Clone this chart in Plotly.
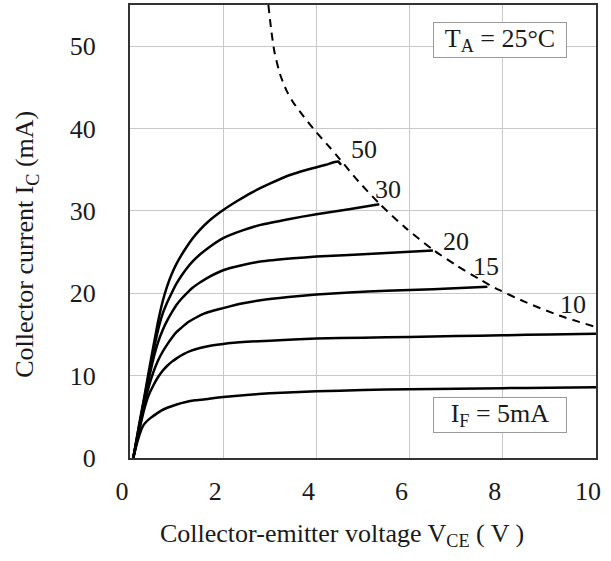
import plotly.graph_objects as go

# Forward current levels (mA) and their curves: Ic (mA) vs Vce (V)
if_labels = ["5", "10", "15", "20", "30", "50"]

vce_5 = [0.07, 0.15, 0.22, 0.28, 0.35, 0.45, 0.55, 0.67, 0.8, 1.0, 1.2, 1.4, 1.7, 2.0, 2.5, 3.0, 4.0, 5.0, 6.0, 7.0, 8.0, 9.0, 10.0]
ic_5 = [0.0, 1.8, 3.1, 3.9, 4.4, 4.9, 5.3, 5.75, 6.1, 6.5, 6.8, 7.0, 7.2, 7.4, 7.65, 7.85, 8.1, 8.25, 8.35, 8.42, 8.48, 8.54, 8.6]

vce_10 = [0.07, 0.2, 0.3, 0.4, 0.5, 0.6, 0.7, 0.8, 0.9, 1.0, 1.15, 1.3, 1.5, 1.75, 2.0, 2.5, 3.0, 4.0, 5.0, 6.0, 7.0, 8.0, 9.0, 10.0]
ic_10 = [0.0, 3.4, 5.8, 7.6, 8.8, 9.8, 10.6, 11.2, 11.7, 12.1, 12.6, 13.0, 13.35, 13.65, 13.85, 14.1, 14.25, 14.5, 14.6, 14.7, 14.8, 14.9, 15.0, 15.1]

vce_15 = [0.07, 0.2, 0.3, 0.4, 0.5, 0.6, 0.7, 0.8, 0.9, 1.0, 1.1, 1.25, 1.4, 1.6, 1.8, 2.0, 2.4, 2.8, 3.4, 4.0, 4.7, 5.5, 6.5, 7.67]
ic_15 = [0.0, 3.6, 6.3, 8.6, 10.4, 11.8, 12.9, 13.8, 14.6, 15.3, 15.8, 16.5, 17.0, 17.55, 17.9, 18.2, 18.75, 19.15, 19.55, 19.85, 20.1, 20.3, 20.5, 20.8]

vce_20 = [0.07, 0.2, 0.3, 0.4, 0.5, 0.6, 0.7, 0.8, 0.9, 1.0, 1.1, 1.2, 1.35, 1.5, 1.7, 2.0, 2.4, 2.8, 3.5, 4.0, 4.7, 5.5, 6.5]
ic_20 = [0.0, 3.8, 6.7, 9.5, 12.0, 14.0, 15.5, 16.7, 17.7, 18.6, 19.3, 19.9, 20.7, 21.3, 22.0, 22.8, 23.4, 23.85, 24.25, 24.45, 24.65, 24.9, 25.2]

vce_30 = [0.07, 0.2, 0.3, 0.4, 0.5, 0.6, 0.7, 0.8, 0.9, 1.0, 1.1, 1.2, 1.35, 1.5, 1.7, 2.0, 2.4, 2.8, 3.4, 4.0, 4.7, 5.35]
ic_30 = [0.0, 4.0, 7.0, 10.0, 12.9, 15.5, 17.5, 18.9, 20.1, 21.2, 22.1, 22.9, 23.9, 24.7, 25.6, 26.7, 27.6, 28.3, 29.0, 29.6, 30.2, 30.8]

vce_50 = [0.07, 0.2, 0.3, 0.4, 0.5, 0.6, 0.7, 0.8, 0.9, 1.0, 1.1, 1.2, 1.35, 1.5, 1.7, 2.0, 2.3, 2.6, 3.0, 3.4, 3.8, 4.2, 4.46, 4.53]
ic_50 = [0.0, 4.2, 7.2, 10.4, 13.5, 16.5, 19.0, 20.9, 22.4, 23.6, 24.6, 25.5, 26.7, 27.7, 28.8, 30.1, 31.2, 32.2, 33.3, 34.3, 35.0, 35.6, 36.0, 35.6]

# Power dissipation limit (dashed)
vce_pmax = [2.97, 3.03, 3.1, 3.22, 3.36, 3.5, 3.72, 3.99, 4.29, 4.5, 4.9, 5.35, 5.9, 6.5, 7.0, 7.5, 7.92, 8.5, 9.21, 10.0]
ic_pmax = [55.0, 52.0, 49.3, 46.6, 44.6, 43.2, 41.5, 39.6, 37.7, 36.3, 33.6, 30.9, 28.0, 25.3, 23.4, 21.7, 20.4, 18.9, 17.3, 15.9]

x_ticks = [0, 2, 4, 6, 8, 10]
x_ticklabels = ["0", "2", "4", "6", "8", "10"]
y_ticks = [0, 10, 20, 30, 40, 50]
y_ticklabels = ["0", "10", "20", "30", "40", "50"]

FONT = "Liberation Serif"
TXT = "#1a1a1a"

fig = go.Figure()

curves = [(vce_5, ic_5), (vce_10, ic_10), (vce_15, ic_15),
          (vce_20, ic_20), (vce_30, ic_30), (vce_50, ic_50)]
for (xs, ys), name in zip(curves, if_labels):
    fig.add_trace(go.Scatter(x=xs, y=ys, mode="lines", name=name,
                             line=dict(color="black", width=2.5, shape="spline", smoothing=0.5),
                             showlegend=False, hoverinfo="skip"))

fig.add_trace(go.Scatter(x=vce_pmax, y=ic_pmax, mode="lines",
                         line=dict(color="black", width=2, dash="8px,6px", shape="spline", smoothing=0.7),
                         showlegend=False, hoverinfo="skip"))

annotations = []
label_pos = {"50": (5.03, 37.4), "30": (5.53, 32.6), "20": (7.0, 26.3),
             "15": (7.64, 23.2), "10": (9.51, 18.6)}
for t, (px, py) in label_pos.items():
    annotations.append(dict(x=px, y=py, xref="x", yref="y", text=t, showarrow=False,
                            font=dict(family=FONT, size=26, color=TXT)))

box_style = dict(showarrow=False, font=dict(family=FONT, size=26, color=TXT),
                 bgcolor="white", bordercolor="#999", borderwidth=1,
                 width=128, height=30, borderpad=2)
annotations.append(dict(x=7.93, y=50.7, xref="x", yref="y", text="T<sub>A</sub> = 25°C", **box_style))
annotations.append(dict(x=7.93, y=5.22, xref="x", yref="y", text="I<sub>F</sub> = 5mA", **box_style))

annotations.append(dict(x=0.455, y=-0.17, xref="paper", yref="paper",
                        text="Collector-emitter voltage V<sub>CE</sub> ( V )", showarrow=False,
                        font=dict(family=FONT, size=26, color=TXT),
                        xanchor="center", yanchor="middle"))
annotations.append(dict(x=-0.222, y=0.472, xref="paper", yref="paper",
                        text="Collector current I<sub>C</sub> (mA)", showarrow=False,
                        textangle=-90, font=dict(family=FONT, size=26, color=TXT),
                        xanchor="center", yanchor="middle"))

fig.update_layout(
    template="none",
    width=611, height=561,
    margin=dict(l=130, r=15, t=5, b=103),
    paper_bgcolor="white", plot_bgcolor="white",
    annotations=annotations,
    font=dict(family=FONT, size=26, color=TXT),
    xaxis=dict(range=[0, 10], tickmode="array", tickvals=x_ticks, ticktext=x_ticklabels,
               showgrid=True, gridcolor="#c8c8c8", gridwidth=1, zeroline=False,
               showline=True, linecolor="#333", linewidth=2, mirror=True,
               ticks="", ticklabelstandoff=9, ticklabelshift=-8,
               tickfont=dict(family=FONT, size=26, color=TXT)),
    yaxis=dict(range=[0, 55], tickmode="array", tickvals=y_ticks, ticktext=y_ticklabels,
               showgrid=True, gridcolor="#c8c8c8", gridwidth=1, zeroline=False,
               showline=True, linecolor="#333", linewidth=2, mirror=True,
               ticks="", ticklabelstandoff=27,
               tickfont=dict(family=FONT, size=26, color=TXT)),
)

fig.write_html("out.html")
